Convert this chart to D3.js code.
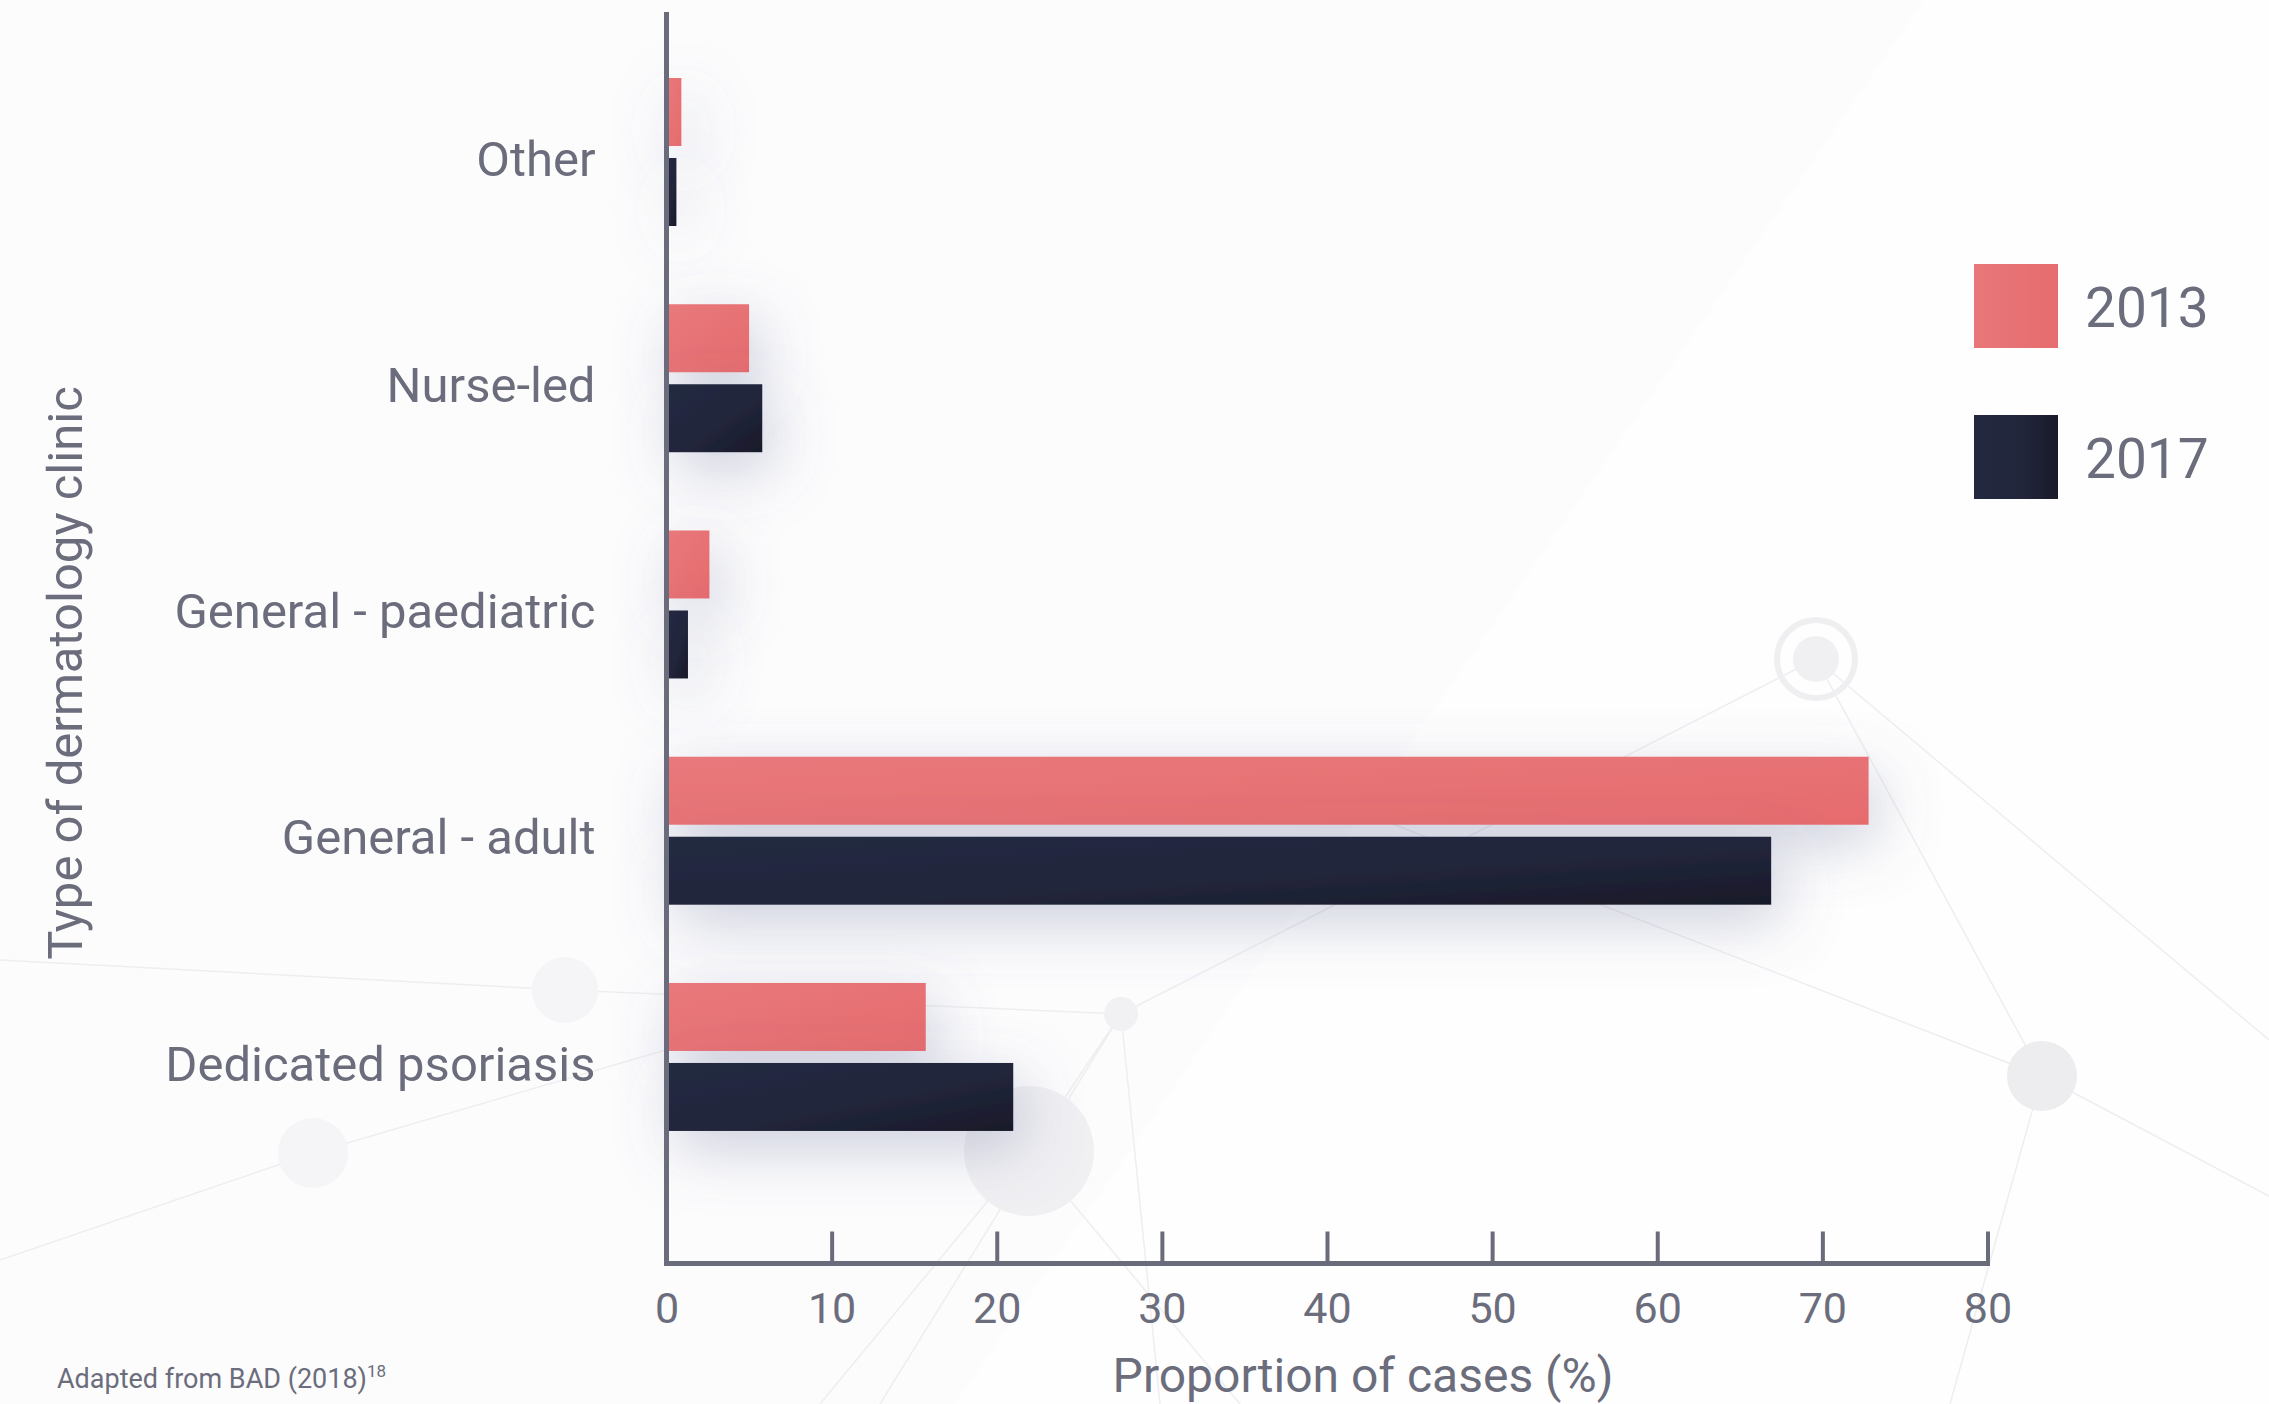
<!DOCTYPE html>
<html>
<head>
<meta charset="utf-8">
<script src="https://d3js.org/d3.v7.min.js"></script>
<style>
  html, body { margin: 0; padding: 0; background: #fcfcfd; }
  svg { display: block; }
  text { font-family: Roboto, "Noto Sans", sans-serif; fill: #6b6d7c; }
</style>
</head>
<body>
<script>
// ---- data ----
const categories = ["Other", "Nurse-led", "General - paediatric", "General - adult", "Dedicated psoriasis"];
const seriesNames = ["2013", "2017"];
const values2013 = [0.9, 5.0, 2.6, 72.8, 15.7];
const values2017 = [0.6, 5.8, 1.3, 66.9, 21.0];
const xTicks = [0, 10, 20, 30, 40, 50, 60, 70, 80];
const xTitle = "Proportion of cases (%)";
const yTitle = "Type of dermatology clinic";
const sourceNote = "Adapted from BAD (2018)";
const sourceRef = "18";

const W = 2269, H = 1404;
const axisColor = "#6b6c7b";

const svg = d3.select("body").append("svg").attr("width", W).attr("height", H);
const defs = svg.append("defs");

// gradients
const g13 = defs.append("linearGradient").attr("id", "g2013").attr("x1", 0).attr("y1", 0).attr("x2", 1).attr("y2", 1);
g13.append("stop").attr("offset", 0).attr("stop-color", "#e8797c");
g13.append("stop").attr("offset", 1).attr("stop-color", "#e66b6d");
const g17 = defs.append("linearGradient").attr("id", "g2017").attr("x1", 0).attr("y1", 0).attr("x2", 1).attr("y2", 1);
g17.append("stop").attr("offset", 0).attr("stop-color", "#242a42");
g17.append("stop").attr("offset", 0.55).attr("stop-color", "#22263c");
g17.append("stop").attr("offset", 1).attr("stop-color", "#181928");
const l13 = defs.append("linearGradient").attr("id", "l2013");
l13.append("stop").attr("offset", 0).attr("stop-color", "#e8777a");
l13.append("stop").attr("offset", 1).attr("stop-color", "#e66c6e");
const l17 = defs.append("linearGradient").attr("id", "l2017");
l17.append("stop").attr("offset", 0).attr("stop-color", "#24283f");
l17.append("stop").attr("offset", 0.55).attr("stop-color", "#22263c");
l17.append("stop").attr("offset", 1).attr("stop-color", "#191a2a");

const shadow = defs.append("filter").attr("id", "shadow")
  .attr("filterUnits", "userSpaceOnUse")
  .attr("x", 400).attr("y", -200).attr("width", 1900).attr("height", 650);
shadow.append("feDropShadow").attr("dx", 10).attr("dy", 18).attr("stdDeviation", 30)
  .attr("flood-color", "#6a6f9a").attr("flood-opacity", 0.33);

// ---- background decoration ----
const bg = svg.append("g");
bg.append("rect").attr("width", W).attr("height", H).attr("fill", "#fcfcfd");
bg.append("polygon").attr("points", "1924,0 2269,0 2269,1404 955,1404").attr("fill", "#fefefe");
const lineC = "#eeeef1";
const decoLines = [
  [1816, 659, 1121, 1014], [1816, 659, 2042, 1076], [1816, 659, 2269, 1040],
  [2042, 1076, 1300, 788], [2042, 1076, 2269, 1196], [2042, 1076, 1950, 1404],
  [1121, 1014, 1029, 1151], [1121, 1014, 1160, 1404], [1121, 1014, 880, 1404],
  [1121, 1014, 565, 990], [565, 990, 0, 960], [313, 1153, 0, 1260],
  [1029, 1151, 1240, 1404], [313, 1153, 700, 1040], [1029, 1151, 820, 1404]
];
bg.selectAll("line.deco").data(decoLines).join("line")
  .attr("x1", d => d[0]).attr("y1", d => d[1]).attr("x2", d => d[2]).attr("y2", d => d[3])
  .attr("stroke", lineC).attr("stroke-width", 1.5);
const decoCircles = [
  [2042, 1076, 35, "#ededf0"], [1121, 1014, 17, "#f1f1f3"], [1029, 1151, 65, "#f0f0f3"],
  [565, 990, 33, "#f5f5f7"], [313, 1153, 35, "#f5f5f7"], [1816, 659, 23, "#f0f0f3"]
];
bg.selectAll("circle.deco").data(decoCircles).join("circle")
  .attr("cx", d => d[0]).attr("cy", d => d[1]).attr("r", d => d[2]).attr("fill", d => d[3]);
bg.append("circle").attr("cx", 1816).attr("cy", 659).attr("r", 39)
  .attr("fill", "none").attr("stroke", "#efeff2").attr("stroke-width", 6);

// ---- scales ----
const x = d3.scaleLinear().domain([0, 80]).range([666.5, 1987.5]);
const y0 = d3.scaleBand().domain(categories).range([38.9, 1170.1]).padding(0);
const y1 = d3.scaleBand().domain(seriesNames).range([39.1, 187.1]).paddingInner(0.15);

const rows = categories.map((c, i) => ({ cat: c, vals: [
  { s: "2013", v: values2013[i] }, { s: "2017", v: values2017[i] } ] }));

// ---- bars ----
const barG = svg.append("g");
const groups = barG.selectAll("g.cat").data(rows).join("g")
  .attr("transform", d => `translate(0,${y0(d.cat)})`);
groups.selectAll("rect").data(d => d.vals).join("rect")
  .attr("x", x(0))
  .attr("y", d => y1(d.s))
  .attr("width", d => x(d.v) - x(0))
  .attr("height", y1.bandwidth())
  .attr("fill", d => `url(#g${d.s})`)
  .attr("filter", "url(#shadow)");

// ---- axes ----
const xAxis = svg.append("g").attr("transform", "translate(0,1263.5)")
  .call(d3.axisBottom(x).tickValues(xTicks).tickSizeInner(-32).tickSizeOuter(0).tickPadding(29));
xAxis.select(".domain").attr("stroke", axisColor).attr("stroke-width", 5)
  .attr("d", `M${x(0) - 2.5},0H${x(80) + 2.5}`);
xAxis.selectAll(".tick line").attr("stroke", axisColor).attr("stroke-width", 4)
  .attr("display", d => d === 0 ? "none" : null);
xAxis.selectAll(".tick text").attr("font-size", 43).attr("fill", "#6b6d7c")
  .style("font-family", "Roboto");

const yAxis = svg.append("g").attr("transform", `translate(${x(0)},0)`)
  .call(d3.axisLeft(y0).tickSize(0).tickPadding(71));
yAxis.select(".domain").attr("stroke", axisColor).attr("stroke-width", 5)
  .attr("d", "M0,12V1266");
yAxis.selectAll(".tick text").attr("font-size", 49).attr("dy", "0.48em")
  .attr("fill", "#6b6d7c").style("font-family", "Roboto");

// ---- titles ----
svg.append("text").attr("x", 1363).attr("y", 1392).attr("text-anchor", "middle")
  .attr("font-size", 48).text(xTitle);
svg.append("text").attr("transform", "translate(82,673) rotate(-90)")
  .attr("text-anchor", "middle").attr("font-size", 49).text(yTitle);

// ---- legend ----
const leg = svg.append("g");
const legY = d3.scalePoint().domain(seriesNames).range([264, 415]);
const li = leg.selectAll("g").data(seriesNames).join("g")
  .attr("transform", d => `translate(1974,${legY(d)})`);
li.append("rect").attr("width", 84).attr("height", 84).attr("fill", d => `url(#l${d})`);
li.append("text").attr("x", 111).attr("y", 63).attr("font-size", 55).text(d => d);

// ---- source ----
const src = svg.append("text").attr("x", 57).attr("y", 1388).attr("font-size", 27);
src.append("tspan").text(sourceNote);
src.append("tspan").attr("font-size", 17).attr("dy", -11).text(sourceRef);
</script>
</body>
</html>
